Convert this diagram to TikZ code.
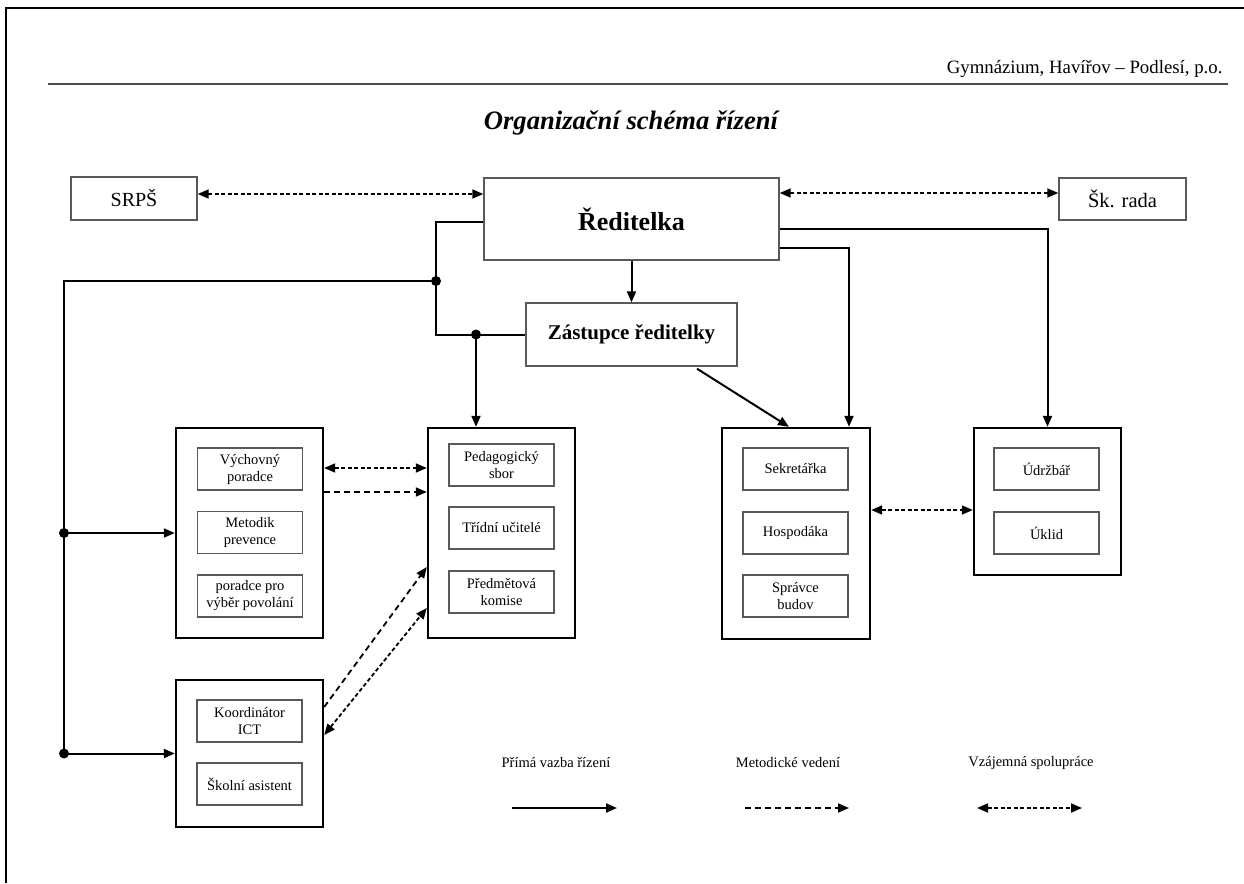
\documentclass[tikz,border=0pt]{standalone}
\usepackage{fontspec}
\setmainfont{Liberation Serif}
\usetikzlibrary{arrows.meta}
\begin{document}
\begin{tikzpicture}[x=1pt,y=-1pt,
  big/.style={draw=black, line width=2.4pt, minimum width=147pt, inner sep=0pt},
  small/.style={draw=black!65, line width=1.2pt, minimum width=105pt, minimum height=42pt, inner sep=0pt, align=center, font=\fontsize{14.5}{17}\selectfont},
  topbox/.style={draw=black!65, line width=1.4pt, inner sep=0pt},
  tip/.tip={Triangle[length=11pt,width=9pt]},
  ctl/.style={line width=2pt, -tip},
  met/.style={line width=1.8pt, dash pattern=on 6pt off 4pt, -tip},
  coop/.style={line width=1.8pt, dash pattern=on 4pt off 2.5pt, tip-tip},
  plain/.style={line width=2pt},
  dot/.style={circle, fill=black, inner sep=0pt, minimum size=10pt},
  lbl/.style={font=\fontsize{14.5}{17}\selectfont}]
\useasboundingbox (0,0) rectangle (1244,883);
% page frame and header
\draw[line width=1.5pt] (6,883) -- (6,8) -- (1244,8);
\node[anchor=base east, font=\fontsize{18.8}{22}\selectfont] (hdr) at (1226,74) {Gymnázium, Havířov – Podlesí, p.o.};
\draw[line width=1.6pt, black!70] (48,84) -- (1228,84);
\node[font=\fontsize{26.6}{30}\selectfont\bfseries\itshape] (title) at (631,123) {Organizační schéma řízení};
% top boxes
\node[topbox, minimum width=126pt, minimum height=43pt, font=\fontsize{20}{24}\selectfont] (srps) at (134,198.5) {SRPŠ};
\node[topbox, minimum width=295pt, minimum height=82pt, font=\fontsize{26}{30}\selectfont\bfseries] (red) at (631.5,219) {Ředitelka};
\node[topbox, minimum width=127pt, minimum height=42pt, font=\fontsize{20.5}{24}\selectfont] (sk) at (1122.5,199) {Šk. rada};
\node[topbox, minimum width=211pt, minimum height=63pt, font=\fontsize{21}{25}\selectfont\bfseries] (zast) at (631.5,334.5) {Zástupce ředitelky};
% big boxes
\node[big, minimum height=210pt] (B1) at (249.5,533) {};
\node[big, minimum height=210pt] (B2) at (501.5,533) {};
\node[big, minimum width=148pt, minimum height=211pt] (B3) at (796,533.5) {};
\node[big, minimum height=147pt] (B4) at (1047.5,501.5) {};
\node[big, minimum height=147pt] (B5) at (249.5,753.5) {};
% inner boxes
\node[small] (vp) at (250,469) {Výchovný\\poradce};
\node[small] (mp) at (250,532.5) {Metodik\\prevence};
\node[small] (pv) at (250,596) {poradce pro\\výběr povolání};
\node[small] (ps) at (501.5,465) {Pedagogický\\sbor};
\node[small] (tu) at (501.5,528) {Třídní učitelé};
\node[small] (pk) at (501.5,592) {Předmětová\\komise};
\node[small] (se) at (795.5,469) {Sekretářka};
\node[small] (ho) at (795.5,533) {Hospodáka};
\node[small] (sb) at (795.5,596) {Správce\\budov};
\node[small] (ud) at (1046.5,469) {Údržbář};
\node[small] (uk) at (1046.5,533) {Úklid};
\node[small] (ko) at (249.5,721) {Koordinátor\\ICT};
\node[small] (sa) at (249.5,784) {Školní asistent};
% junction coordinates
\coordinate (j1) at (436,281);
\coordinate (j2) at (476,334.5);
\coordinate (l1) at (64,281);
\coordinate (l2) at (64,533);
\coordinate (l3) at (64,753.5);
% connectors
\draw[coop] ([yshift=4.5pt]srps.east) -- ([yshift=4.5pt]srps.east -| red.west);
\draw[coop] ([yshift=6pt]sk.west -| red.east) -- ([yshift=6pt]sk.west);
\draw[ctl] (red.south) -- (zast.north);
\draw[plain] ([yshift=-3pt]red.west) -| (j1) |- (zast.west);
\draw[ctl] (j2) -- (j2 |- B2.north);
\draw[plain] (j1) -- (l1) -- (l3);
\draw[ctl] (l2) -- (B1.west);
\draw[ctl] (l3) -- (B5.west);
\node[dot] (d1) at (j1) {};
\node[dot] (d2) at (j2) {};
\node[dot] (d3) at (l2) {};
\node[dot] (d4) at (l3) {};
\draw[ctl] ([yshift=-10pt]red.east) -| (B4.north);
\draw[ctl] ([yshift=-29pt]red.east) -| ([xshift=53pt]B3.north);
\draw[ctl] ([xshift=65.5pt,yshift=-2pt]zast.south) -- ([xshift=-7pt]B3.north);
\draw[coop] ([yshift=65pt]B1.east) -- ([yshift=65pt]B1.east -| B2.west);
\draw[met] ([yshift=41pt]B1.east) -- ([yshift=41pt]B1.east -| B2.west);
\draw[met] ([yshift=46.5pt]B5.east) -- ([yshift=-34pt]B2.west);
\draw[coop] ([yshift=18.5pt]B5.east) -- ([yshift=-75pt]B2.west);
\draw[coop] ([yshift=23.5pt]B3.east) -- ([yshift=23.5pt]B3.east -| B4.west);
% legend
\node[lbl] (lg1) at (556,763) {Přímá vazba řízení};
\node[lbl] (lg2) at (788,763) {Metodické vedení};
\node[lbl] (lg3) at (1031,763) {Vzájemná spolupráce};
\coordinate (a1s) at (512,808);
\coordinate (a1e) at (617,808);
\coordinate (a2s) at (745,808);
\coordinate (a2e) at (849,808);
\coordinate (a3s) at (977,808);
\coordinate (a3e) at (1082,808);
\draw[ctl] (a1s) -- (a1e);
\draw[met] (a2s) -- (a2e);
\draw[coop] (a3s) -- (a3e);
\end{tikzpicture}
\end{document}
